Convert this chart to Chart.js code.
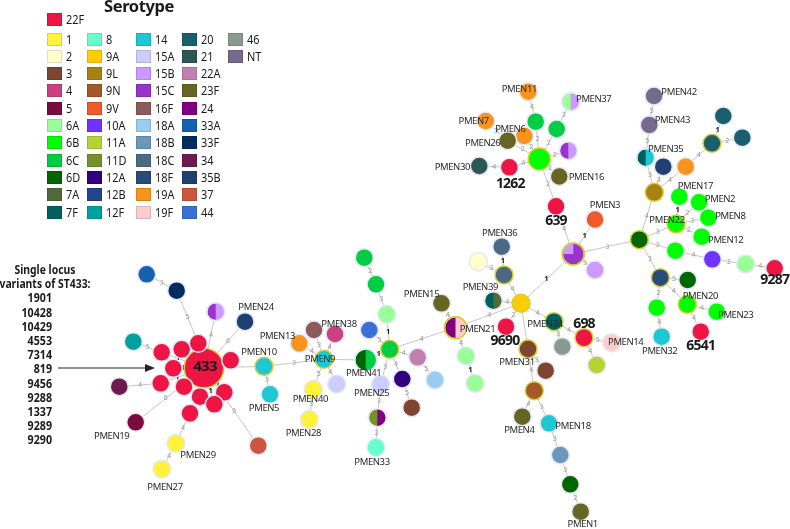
<!DOCTYPE html>
<html>
<head>
<meta charset="utf-8">
<script src="https://cdn.jsdelivr.net/npm/chart.js@4.4.0/dist/chart.umd.min.js"></script>
<style>
  html, body { margin: 0; padding: 0; background: #fff; }
  #wrap { position: relative; width: 790px; height: 529px; overflow: hidden; }
  #net { position: absolute; left: 0; top: 0; }
  .txt { font-family: "Noto Sans", sans-serif; color: #1a1a1a; }
  #title { position: absolute; left: 104px; top: -6px; font-weight: bold; font-size: 16.5px; letter-spacing: -0.4px; }
  .sw { position: absolute; width: 15px; height: 13px; box-sizing: border-box; border: 1px solid rgba(0,0,0,0.12); }
  .lb { position: absolute; font-size: 13px; line-height: 13px; white-space: nowrap; transform: scaleX(0.84); transform-origin: left center; }
  #slvHead { position: absolute; left: -20px; top: 262px; width: 130px; text-align: center; white-space: nowrap;
    font-weight: bold; font-size: 13px; line-height: 14.2px; transform: scaleX(0.8); transform-origin: 65px 0; }
  #slvList { position: absolute; left: 0; top: 290.4px; width: 52px; text-align: right;
    font-weight: bold; font-size: 13px; line-height: 14.2px; transform: scaleX(0.82); transform-origin: right top; }
</style>
</head>
<body>
<div id="wrap">
  <canvas id="net" width="790" height="529"></canvas>
  <div id="title" class="txt">Serotype</div>
  <div id="legend" class="txt"></div>
  <div id="slvHead" class="txt">Single locus<br>variants of ST433:</div>
  <div id="slvList" class="txt"></div>
</div>
<script>
// serotypes in legend order (22F alone, then column by column)
const serotypes = ['22F',
  '1', '2', '3', '4', '5', '6A', '6B', '6C', '6D', '7A', '7F',
  '8', '9A', '9L', '9N', '9V', '10A', '11A', '11D', '12A', '12B', '12F',
  '14', '15A', '15B', '15C', '16F', '18A', '18B', '18C', '18F', '19A', '19F',
  '20', '21', '22A', '23F', '24', '33A', '33F', '34', '35B', '37', '44',
  '46', 'NT'];
const serotypeColors = ['#ee1444',
  '#fff23a', '#ffffcc', '#7e4530', '#cc3f80', '#7b0b3f', '#99ff99', '#00ff00', '#00cc44', '#006600', '#4f6b3a', '#006060',
  '#66ffcc', '#ffcc00', '#a88210', '#a45a28', '#f05a28', '#7033ff', '#b5d333', '#77912a', '#330080', '#22448a', '#00a0a0',
  '#1ec8d2', '#ccccff', '#cc99ff', '#9933cc', '#8c5a5a', '#99ccee', '#6b97bb', '#4b6983', '#2b4a7c', '#f7941d', '#ffcccc',
  '#1b5e6e', '#2d5656', '#c080b0', '#666622', '#800080', '#1560b0', '#002d5e', '#6e1c4e', '#1f4070', '#cc5540', '#3c6fd6',
  '#8a9a92', '#76698c'];

const slvST433 = ['1901', '10428', '10429', '4553', '7314', '819', '9456', '9288', '1337', '9289', '9290'];

// sequence types (nodes) of the minimum spanning tree, layout coordinates
const nodeIds = [
  'ST433', 'ST1901', 'ST10428', 'ST10429', 'ST4553', 'ST7314', 'ST819', 'ST9456', 'ST9288', 'ST1337', 'ST9289', 'ST9290',
  'a33A', 'a33F', 'a15C', 'PMEN24', 'a12F', 'a34', 'PMEN19', 'PMEN29', 'PMEN27', 'a37', 'PMEN10', 'PMEN5',
  'PMEN13', 'b16F', 'PMEN38', 'PMEN9', 'PMEN40', 'PMEN28', 'b15A', 'PMEN41', 'b6C', 'b44', 'b6A', 'b6C2',
  'b6C3', 'b22A', 'b18A', 'b12A', 'b3', 'PMEN25', 'b11D', 'PMEN33', 'PMEN15', 'PMEN21', 'b6A2', 'b6A3',
  'c9A', 'c18C', 'PMEN36', 'c2', 'PMEN39', 'ST9690', 'PMEN34', 'c46', 'ST698', 'PMEN14', 'c11A',
  'PMEN31', 'c3', 'c9N', 'PMEN4', 'PMEN18', 'c18B', 'c6D', 'PMEN1', 'cPie', 'c15B', 'PMEN3', 'ST639',
  'd6B', 'ST1262', 'PMEN30', 'PMEN16', 'd6C', 'PMEN11', 'd6C2', 'PMEN37', 'PMEN6', 'PMEN7', 'PMEN26', 'd15C',
  'e6D', 'e9L', 'PMEN35', 'e35B', 'e19A', 'PMEN43', 'PMEN42', 'e20', 'e20b', 'e20c', 'PMEN22', 'PMEN17', 'PMEN2',
  'PMEN8', 'PMEN12', 'e6B', 'e10A', 'e6A', 'ST9287', 'e18F', 'e6D2', 'e6B2', 'PMEN32', 'PMEN20', 'PMEN23', 'ST6541'];
const nodeX = [
  204, 161.7, 181.7, 198.3, 173.3, 230.7, 160.7, 184, 200, 224.3, 214.3, 190,
  146.7, 176.7, 215.7, 245, 133.3, 119.3, 135.7, 176, 162, 258.3, 264, 270,
  299.3, 314, 335, 324, 313.3, 309.3, 336.7, 365.7, 389.7, 369.3, 386.7, 376,
  364.3, 417.7, 435, 402.3, 411.7, 380.7, 377.3, 376, 441.5, 455.5, 466, 475,
  521, 504, 501.7, 478.3, 493.3, 506, 554, 562.3, 584, 611.7, 596.7,
  528, 545.7, 534.3, 522.3, 549, 560.3, 570.3, 580.7, 573.3, 595, 595, 556,
  539.3, 509.3, 479.3, 559.3, 535.7, 528.3, 556.7, 570.7, 524.3, 485.7, 507.7, 568.3,
  639.3, 654.3, 645.7, 663.3, 685.7, 649.3, 654, 712, 723.3, 742.3, 676, 679.3, 699,
  708.3, 701.7, 675.3, 712.3, 745.7, 774.7, 660.3, 687.7, 656.7, 661.7, 687.3, 716.7, 700.7];
const nodeY = [
  368, 352.3, 349.3, 343.3, 368.3, 360.3, 383.3, 386.7, 396.7, 392.3, 404.3, 413.3,
  274.3, 290.7, 311.7, 321.7, 341.7, 386.7, 422.3, 443.3, 469, 445.7, 366.3, 394.3,
  343.3, 330, 334, 359.3, 389.3, 419.3, 384, 360, 349.3, 330, 314.3, 284.3,
  257.7, 357.3, 380, 379, 407.7, 384.3, 417.7, 447.3, 303.3, 327.7, 356, 383.3,
  303.3, 275, 246.7, 261.7, 300.7, 326.7, 321.7, 346.7, 337.7, 342.7, 365,
  349, 370.7, 390.7, 416.7, 423.3, 455, 484.3, 511.7, 254, 270, 219.5, 206.3,
  159, 167.3, 166, 176.5, 121.7, 91.7, 129, 101.7, 136, 121, 140.7, 150.7,
  239.7, 192.3, 157.7, 166.7, 166.7, 125, 96, 143.3, 116, 137.7, 224, 196.7, 202.3,
  217.7, 236.7, 250.7, 259.3, 264, 268.3, 277.7, 280, 307.7, 336.7, 304.3, 311.7, 331.7];
const nodeSero = [
  '22F', '22F', '22F', '22F', '22F', '22F', '22F', '22F', '22F', '22F', '22F', '22F',
  '33A', '33F', '15C', '35B', '12F', '34', '5', '1', '1', '37', '14', '14',
  '19A', '16F', '4', '14', '1', '1', '15A', '6D', '6C', '44', '6A', '6C',
  '6C', '22A', '18A', '12A', '3', '15A', '11D', '8', '23F', '24', '6A', '6A',
  '9A', '18C', '18C', '2', '7F', '22F', '7F', '46', '22F', '19F', '11A',
  '3', '3', '9N', '23F', '14', '18B', '6D', '23F', '15C', '15B', '9V', '22F',
  '6B', '22F', '21', '23F', '6C', '19A', '6C', '6A', '19A', '19A', '23F', '15C',
  '6D', '9L', '7F', '35B', '19A', 'NT', 'NT', '20', '20', '20', '6B', '6B', '6B',
  '6B', '6B', '6B', '10A', '6A', '22F', '18F', '6D', '6B', '14', '6B', '6B', '22F'];
// second serotype found in the same ST, and its share of isolates
const nodeSero2 = { a15C: '15B', PMEN41: '6C', b11D: '24', PMEN21: '19F', PMEN39: '7A',
  cPie: '15B', PMEN37: '15B', d15C: '15B', PMEN35: '14' };
const nodeShare2 = { a15C: 0.5, PMEN41: 0.5, b11D: 0.5, PMEN21: 0.5, PMEN39: 0.5,
  cPie: 0.25, PMEN37: 0.5, d15C: 0.5, PMEN35: 0.5 };
const nodeIsolates = { ST433: 15, PMEN41: 2, PMEN21: 2, cPie: 2, d6B: 2 };
const groupFounders = ['ST433', 'PMEN10', 'PMEN9', 'b6C', 'PMEN21', 'c9A', 'c18C', 'PMEN34', 'ST698', 'PMEN31',
  'c9N', 'cPie', 'd6B', 'e6D', 'e9L', 'e20', 'PMEN22', 'e18F', 'PMEN20'];
const stLabels = ['ST433', 'ST1262', 'ST639', 'ST9690', 'ST698', 'ST6541', 'ST9287'];

// allelic differences between linked STs
const edgeFrom = [
  'ST433', 'ST433', 'ST433', 'ST433', 'ST433', 'ST433', 'ST433', 'ST433', 'ST433', 'ST433', 'ST433',
  'a33A', 'a33F', 'a15C', 'PMEN24', 'a12F', 'a34', 'PMEN19', 'PMEN29', 'PMEN29', 'a37', 'PMEN10', 'PMEN10', 'PMEN10',
  'PMEN9', 'PMEN9', 'PMEN9', 'PMEN9', 'PMEN40', 'PMEN9', 'PMEN9', 'PMEN41',
  'b6C', 'b6A', 'b6C2', 'b6C', 'b6C', 'b22A', 'b6C', 'b12A', 'b6C', 'PMEN25', 'b11D', 'b6C',
  'PMEN21', 'PMEN21', 'b6A2', 'PMEN21',
  'c9A', 'c9A', 'c18C', 'c18C', 'c9A', 'c9A', 'c9A', 'c9A', 'PMEN34', 'PMEN34', 'ST698', 'ST698',
  'PMEN31', 'PMEN31', 'c9N', 'c9N', 'PMEN18', 'c18B', 'c6D',
  'cPie', 'cPie', 'cPie', 'cPie', 'ST639',
  'd6B', 'd6B', 'ST1262', 'd6B', 'PMEN7', 'd6B', 'd6B', 'd6C', 'd6B', 'd6C2', 'd6B',
  'e6D', 'e9L', 'e9L', 'e9L', 'e19A', 'e20', 'e20', 'PMEN35', 'PMEN43',
  'e6D', 'PMEN22', 'PMEN22', 'PMEN22', 'PMEN22', 'e6D', 'e6B', 'e10A', 'e6A',
  'e6D', 'e18F', 'e18F', 'e6B2', 'e18F', 'PMEN20', 'PMEN20'];
const edgeTo = [
  'ST1901', 'ST10428', 'ST10429', 'ST4553', 'ST7314', 'ST819', 'ST9456', 'ST9288', 'ST1337', 'ST9289', 'ST9290',
  'a33F', 'ST10429', 'ST433', 'ST433', 'ST1901', 'ST819', 'ST433', 'ST9290', 'PMEN27', 'ST433', 'ST433', 'PMEN5', 'PMEN9',
  'PMEN13', 'b16F', 'PMEN38', 'PMEN40', 'PMEN28', 'b15A', 'PMEN41', 'b6C',
  'b6A', 'b6C2', 'b6C3', 'b44', 'b22A', 'b18A', 'b12A', 'b3', 'PMEN25', 'b11D', 'PMEN33', 'PMEN21',
  'PMEN15', 'b6A2', 'b6A3', 'c9A',
  'PMEN39', 'c18C', 'PMEN36', 'c2', 'ST9690', 'cPie', 'PMEN34', 'PMEN31', 'c46', 'ST698', 'PMEN14', 'c11A',
  'c3', 'c9N', 'PMEN4', 'PMEN18', 'c18B', 'c6D', 'PMEN1',
  'ST639', 'PMEN3', 'c15B', 'e6D', 'd6B',
  'PMEN16', 'ST1262', 'PMEN30', 'PMEN26', 'PMEN26', 'PMEN6', 'd6C', 'PMEN11', 'd6C2', 'PMEN37', 'd15C',
  'e9L', 'PMEN35', 'e35B', 'e19A', 'e20', 'e20b', 'e20c', 'PMEN43', 'PMEN42',
  'PMEN22', 'PMEN17', 'PMEN2', 'PMEN8', 'PMEN12', 'e6B', 'e10A', 'e6A', 'ST9287',
  'e18F', 'e6D2', 'e6B2', 'PMEN32', 'PMEN20', 'PMEN23', 'ST6541'];
const edgeWeight = [
  1, 1, 1, 1, 1, 1, 1, 1, 1, 1, 1,
  3, 5, 4, 6, 5, 4, 6, 4, 4, 6, null, 3, 3,
  4, 3, 4, 5, 3, 4, null, 1,
  1, 3, 2, 5, 4, 5, 4, 5, 3, 3, 2, 4,
  4, 4, 1, 4,
  4, 4, 1, 3, 2, 1, 4, null, 3, 4, 5, 4,
  3, 4, 4, 3, 3, 3, 2,
  4, 1, 3, 3, 2,
  2, 4, 4, 2, 2, 2, 2, 4, 2, 3, 2,
  4, 3, 3, 4, 4, 1, 2, 5, 5,
  3, 1, 2, 3, 2, 3, 4, 2, 4,
  3, 5, 2, 4, 4, 4, 4];

// ---- drawing setup (layout/style only below) ----
const colorOf = s => serotypeColors[serotypes.indexOf(s)];
const idx = {};
nodeIds.forEach((id, i) => { idx[id] = i; });
const radiusOf = id => 9 * Math.pow(nodeIsolates[id] || 1, 0.29);

const labelOffset = {
  PMEN24: [11, -14], PMEN19: [-24, 14], PMEN29: [22, 12], PMEN27: [3, 18], PMEN10: [-5, -14], PMEN5: [-6, 14],
  PMEN13: [-22, -7], PMEN38: [4, -10], PMEN9: [-4, 0], PMEN40: [-3, 10], PMEN28: [-6, 14], PMEN41: [-2, 13],
  PMEN25: [-9, 9], PMEN33: [-4, 15], PMEN15: [-20, -9], PMEN21: [22, 2], PMEN36: [-2, -13], PMEN39: [-13, -13],
  PMEN34: [-9, 3], PMEN14: [14, 0], PMEN31: [-11, 13], PMEN4: [-3, 14], PMEN18: [24, 3], PMEN1: [2, 13],
  PMEN3: [10, -14], PMEN30: [-27, 1], PMEN16: [27, 1], PMEN11: [-9, -2], PMEN37: [23, -2], PMEN7: [-12, 0],
  PMEN6: [-14, -7], PMEN26: [-25, 3], PMEN42: [25, -4], PMEN43: [23, -5], PMEN35: [20, -8], PMEN17: [16, -10],
  PMEN2: [21, -3], PMEN8: [22, -1], PMEN22: [-9, -4], PMEN12: [24, 4], PMEN20: [13, -8], PMEN23: [19, 4],
  PMEN32: [-2, 15],
  ST433: [1, -1], ST1262: [1, 17], ST639: [0, 14.5], ST9690: [-1, 14], ST698: [0, -14], ST6541: [0, 14], ST9287: [0, 12]
};
const arrowFrom = [58, 368], arrowTo = [155, 368];

// HTML legend
const legend = document.getElementById('legend');
const colX = [47, 87, 136, 182, 228];
serotypes.forEach((s, i) => {
  let x, y;
  if (i === 0) { x = 47; y = 19.5; }
  else { const c = Math.floor((i - 1) / 11), r = (i - 1) % 11; x = colX[c]; y = 39 + 17.3 * r; }
  const sw = document.createElement('div');
  sw.className = 'sw';
  sw.style.left = x + 'px'; sw.style.top = (y - 6.5) + 'px'; sw.style.background = colorOf(s);
  const lb = document.createElement('div');
  lb.className = 'lb';
  lb.style.left = (x + 19) + 'px'; lb.style.top = (y - 6.5) + 'px';
  lb.textContent = s;
  legend.appendChild(sw); legend.appendChild(lb);
});
document.getElementById('slvList').innerHTML = slvST433.join('<br>');

const nodeData = nodeIds.map((id, i) => ({ x: nodeX[i], y: nodeY[i] }));

const edgeSets = edgeFrom.map((f, k) => {
  const a = idx[f], b = idx[edgeTo[k]];
  return {
    data: [{ x: nodeX[a], y: nodeY[a] }, { x: nodeX[b], y: nodeY[b] }],
    showLine: true, borderColor: '#b8b8b8', borderWidth: 0.8,
    pointRadius: 0, pointHoverRadius: 0, order: 1, clip: false
  };
});

const netDecor = {
  id: 'netDecor',
  beforeDatasetDraw(chart, args) {
    if (args.index !== 0) return;
    const { ctx } = chart;
    const sx = chart.scales.x, sy = chart.scales.y;
    ctx.save();
    ctx.textAlign = 'center';
    ctx.textBaseline = 'middle';
    edgeFrom.forEach((f, k) => {
      const w = edgeWeight[k];
      if (w === null) return;
      const a = idx[f], b = idx[edgeTo[k]];
      const x1 = sx.getPixelForValue(nodeX[a]), y1 = sy.getPixelForValue(nodeY[a]);
      const x2 = sx.getPixelForValue(nodeX[b]), y2 = sy.getPixelForValue(nodeY[b]);
      const L = Math.hypot(x2 - x1, y2 - y1) || 1;
      const ra = radiusOf(f), rb = radiusOf(edgeTo[k]);
      const t = (ra + (L - ra - rb) / 2) / L;
      const mx = x1 + (x2 - x1) * t, my = y1 + (y2 - y1) * t;
      ctx.font = (w === 1 ? 'bold 7.5px' : '7px') + ' "Noto Sans", sans-serif';
      ctx.fillStyle = w === 1 ? '#222' : '#9a9a9a';
      ctx.fillText(String(w), mx, my);
    });
    ctx.restore();
  },
  afterDatasetsDraw(chart) {
    const { ctx } = chart;
    const sx = chart.scales.x, sy = chart.scales.y;
    const meta = chart.getDatasetMeta(0);
    ctx.save();
    // mixed-serotype STs
    Object.keys(nodeSero2).forEach(id => {
      const el = meta.data[idx[id]];
      const r = el.options.radius;
      const share = nodeShare2[id];
      const start = share === 0.5 ? -Math.PI / 2 : Math.PI;
      const end = start + 2 * Math.PI * share;
      ctx.beginPath();
      ctx.moveTo(el.x, el.y);
      ctx.arc(el.x, el.y, r, start, end);
      ctx.closePath();
      ctx.fillStyle = colorOf(nodeSero2[id]);
      ctx.fill();
      ctx.beginPath();
      ctx.arc(el.x, el.y, r, 0, 2 * Math.PI);
      ctx.lineWidth = el.options.borderWidth;
      ctx.strokeStyle = el.options.borderColor;
      ctx.stroke();
    });
    // PMEN labels
    ctx.textAlign = 'center';
    ctx.textBaseline = 'middle';
    ctx.fillStyle = '#2a2a2a';
    ctx.letterSpacing = '-0.4px';
    nodeIds.forEach((id, i) => {
      if (!id.startsWith('PMEN')) return;
      const o = labelOffset[id] || [0, 14];
      ctx.font = '9.5px "Noto Sans", sans-serif';
      ctx.fillText(id, sx.getPixelForValue(nodeX[i]) + o[0], sy.getPixelForValue(nodeY[i]) + o[1]);
    });
    // ST numbers
    ctx.fillStyle = '#1a1a1a';
    ctx.letterSpacing = '-0.8px';
    stLabels.forEach(id => {
      const i = idx[id];
      const o = labelOffset[id];
      ctx.font = (id === 'ST433' ? 'bold 15px' : 'bold 14px') + ' "Noto Sans", sans-serif';
      ctx.fillText(id.slice(2), sx.getPixelForValue(nodeX[i]) + o[0], sy.getPixelForValue(nodeY[i]) + o[1]);
    });
    ctx.letterSpacing = '0px';
    // arrow pointing at the ST433 group
    const ax1 = sx.getPixelForValue(arrowFrom[0]), ay = sy.getPixelForValue(arrowFrom[1]);
    const ax2 = sx.getPixelForValue(arrowTo[0]);
    ctx.strokeStyle = '#222';
    ctx.lineWidth = 1.2;
    ctx.beginPath();
    ctx.moveTo(ax1, ay);
    ctx.lineTo(ax2 - 6, ay);
    ctx.stroke();
    ctx.fillStyle = '#222';
    ctx.beginPath();
    ctx.moveTo(ax2, ay);
    ctx.lineTo(ax2 - 10, ay - 4);
    ctx.lineTo(ax2 - 10, ay + 4);
    ctx.closePath();
    ctx.fill();
    ctx.restore();
  }
};

new Chart(document.getElementById('net'), {
  type: 'scatter',
  data: {
    datasets: [{
      data: nodeData,
      order: 0,
      clip: false,
      pointRadius: nodeIds.map(radiusOf),
      pointHoverRadius: nodeIds.map(radiusOf),
      pointBackgroundColor: nodeSero.map(colorOf),
      pointBorderColor: nodeIds.map(id => groupFounders.includes(id) ? '#d6cf3a' : '#e4e8f4'),
      pointBorderWidth: 1.5,
      pointHoverBorderWidth: 1.5
    }].concat(edgeSets)
  },
  options: {
    responsive: false,
    animation: false,
    events: [],
    layout: { padding: 0, autoPadding: false },
    scales: {
      x: { type: 'linear', min: 0, max: 790, display: false },
      y: { type: 'linear', min: 0, max: 529, reverse: true, display: false }
    },
    plugins: { legend: { display: false }, tooltip: { enabled: false } }
  },
  plugins: [netDecor]
});
</script>
</body>
</html>
